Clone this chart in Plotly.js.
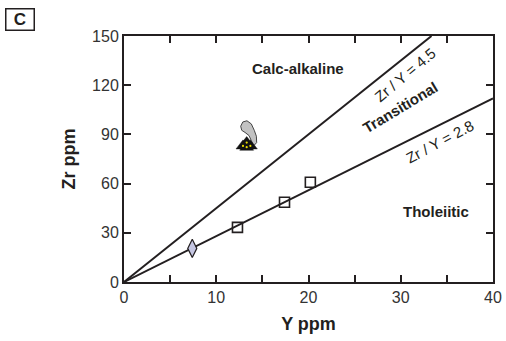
<!DOCTYPE html>
<html><head><meta charset="utf-8">
<script src="https://cdn.plot.ly/plotly-3.0.1.min.js"></script>
<style>html,body{margin:0;padding:0;background:#fff}#chart{width:506px;height:341px}</style>
</head><body><div id="chart"></div>
<script>
// Discrimination line ratios (Zr/Y)
const ratios = [4.5, 2.8];
const ratioLabels = ["Zr / Y = 4.5", "Zr / Y = 2.8"];
// Samples
const diamondY = [7.4];
const diamondZr = [20.5];
const squareY = [12.3, 17.4, 20.2];
const squareZr = [33.3, 48.6, 60.8];
const triY = [12.9, 13.3, 13.7, 13.3];
const triZr = [83.0, 85.0, 83.0, 82.2];
// Grey field outline
const fieldY = [12.65, 12.88, 13.33, 13.8, 14.12, 14.35, 14.38, 14.05, 13.8, 13.55, 13.12, 12.76, 12.65];
const fieldZr = [95.0, 97.6, 98.3, 96.4, 92.5, 88.9, 85.0, 83.0, 86.2, 89.3, 91.2, 92.5, 95.0];
// Axes
const xRange = [0, 40], yRange = [0, 150];
const xTickVals = [0, 5, 10, 15, 20, 25, 30, 35, 40];
const xTickText = ["0", "", "10", "", "20", "", "30", "", "40"];
const yTickVals = [0, 30, 60, 90, 120, 150];
const regionNames = ["Calc-alkaline", "Transitional", "Tholeiitic"];

const ink = '#231f20';
const fam = 'Liberation Sans, Arial, sans-serif';
const traces = [];
ratios.forEach((r) => {
  const xEnd = Math.min(xRange[1], yRange[1] / r);
  traces.push({x: [0, xEnd], y: [0, r * xEnd], mode: 'lines', line: {color: ink, width: 2}, hoverinfo: 'skip'});
});
traces.push({x: fieldY, y: fieldZr, mode: 'lines', fill: 'toself', fillcolor: '#c2c2c2', line: {color: '#444', width: 1}});
traces.push({x: diamondY, y: diamondZr, mode: 'markers', marker: {symbol: 'diamond-tall', size: 13, color: '#c5c6e2', line: {color: ink, width: 1.2}}});
traces.push({x: squareY, y: squareZr, mode: 'markers', marker: {symbol: 'square-open', size: 10, color: ink, line: {width: 1.6}}});
traces.push({x: triY, y: triZr, mode: 'markers', marker: {symbol: 'triangle-up', size: 12, color: '#111', line: {color: '#111', width: 0.5}}});
traces.push({x: triY, y: triZr, mode: 'markers', marker: {symbol: 'circle', size: 2.2, color: '#e8dc00'}});

const axisCommon = {showline: true, linecolor: ink, linewidth: 2, mirror: 'ticks', ticks: 'inside', ticklen: 7, tickwidth: 2, tickcolor: ink, showgrid: false, zeroline: false, tickfont: {family: fam, size: 16, color: '#333'}};

const layout = {
  width: 506, height: 341,
  margin: {l: 124, r: 13, t: 36, b: 59},
  paper_bgcolor: '#fff', plot_bgcolor: '#fff',
  showlegend: false,
  xaxis: Object.assign({}, axisCommon, {range: xRange, tickmode: 'array', tickvals: xTickVals, ticktext: xTickText,
    title: {text: '<b>Y ppm</b>', font: {family: fam, size: 18, color: ink}, standoff: 12}}),
  yaxis: Object.assign({}, axisCommon, {range: yRange, tickmode: 'array', tickvals: yTickVals,
    title: {text: '<b>Zr ppm</b>', font: {family: fam, size: 18, color: ink}, standoff: 12}}),
  annotations: [
    {x: 18.9, y: 130.4, text: '<b>' + regionNames[0] + '</b>', showarrow: false, font: {family: fam, size: 15, color: ink}},
    {x: 29.9, y: 106.5, text: '<b>' + regionNames[1] + '</b>', textangle: -31, showarrow: false, font: {family: fam, size: 15, color: ink}},
    {x: 33.8, y: 43.2, text: '<b>' + regionNames[2] + '</b>', showarrow: false, font: {family: fam, size: 15, color: ink}},
    {x: 30.5, y: 126.5, text: ratioLabels[0], textangle: -40, showarrow: false, font: {family: fam, size: 15, color: ink}},
    {x: 34.25, y: 85.5, text: ratioLabels[1], textangle: -28, showarrow: false, font: {family: fam, size: 15, color: ink}},
    {xref: 'paper', yref: 'paper', x: -0.2805, y: 1.069, xanchor: 'center', yanchor: 'middle', text: '<b>C</b>', showarrow: false,
     font: {family: fam, size: 17, color: ink}, bordercolor: ink, borderwidth: 1.5, borderpad: 1, width: 25, height: 18}
  ]
};
Plotly.newPlot('chart', traces, layout, {staticPlot: true, displayModeBar: false});
</script></body></html>
